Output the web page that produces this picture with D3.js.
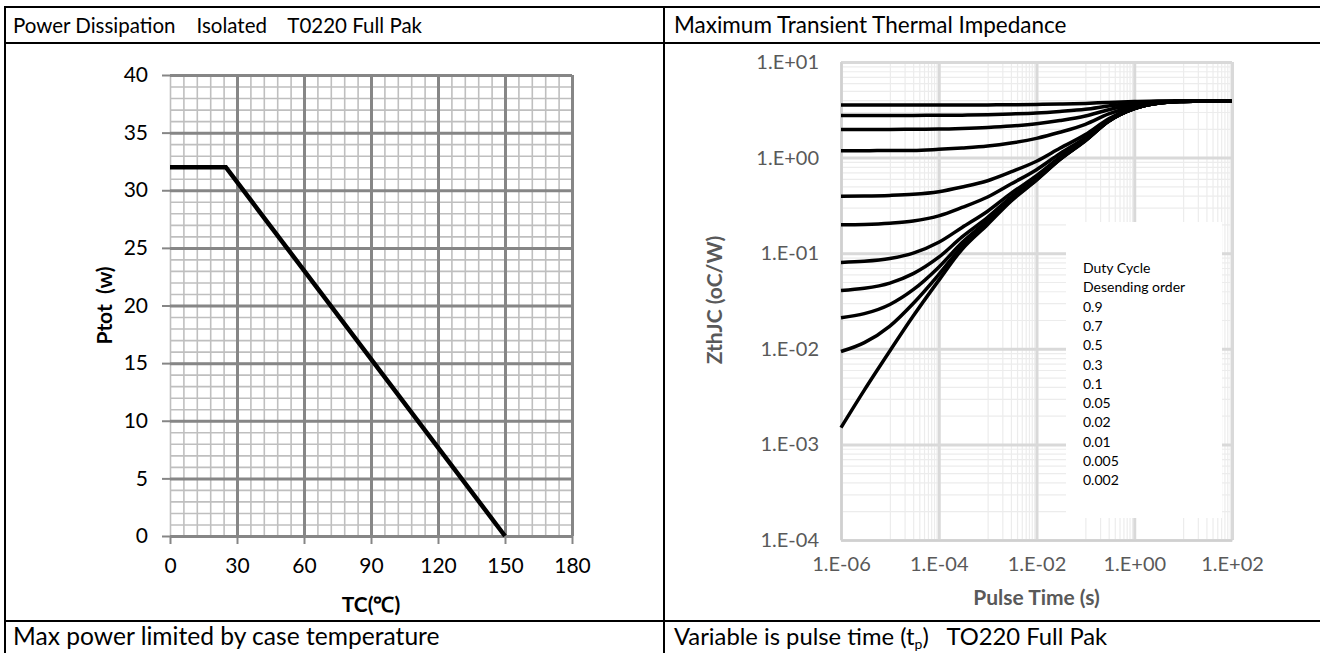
<!DOCTYPE html>
<html>
<head>
<meta charset="utf-8">
<script src="https://cdn.jsdelivr.net/npm/d3@7"></script>
<style>
  body { margin: 0; background: #fff; }
  svg { display: block; font-family: Lato, "Open Sans", sans-serif; }
</style>
</head>
<body>
<div id="chart"></div>
<script>
// left chart data: power derating
const tempTicks = [0, 30, 60, 90, 120, 150, 180];
const powerTicks = [0, 5, 10, 15, 20, 25, 30, 35, 40];
const deratingTemp = [0, 25, 150];
const deratingPower = [32, 32, 0];

// right chart data: transient thermal impedance per duty cycle
const pulseTimes = [1e-6, 3e-6, 1e-5, 3e-5, 1e-4, 3e-4, 1e-3, 3e-3, 1e-2, 3e-2, 1e-1, 3e-1, 1, 3, 10, 30, 100];
const timeTicks = [1e-6, 1e-4, 1e-2, 1, 100];
const timeTickLabels = ["1.E-06", "1.E-04", "1.E-02", "1.E+00", "1.E+02"];
const zthTicks = [1e-4, 1e-3, 1e-2, 1e-1, 1, 10];
const zthTickLabels = ["1.E-04", "1.E-03", "1.E-02", "1.E-01", "1.E+00", "1.E+01"];
const dutyLabels = ["0.9", "0.7", "0.5", "0.3", "0.1", "0.05", "0.02", "0.01", "0.005", "0.002"];

const zth09 = [3.54, 3.54, 3.54, 3.54, 3.54, 3.55, 3.56, 3.57, 3.60, 3.63, 3.69, 3.78, 3.86, 3.91, 3.92, 3.93, 3.93];
const zth07 = [2.75, 2.75, 2.75, 2.76, 2.77, 2.78, 2.81, 2.86, 2.93, 3.04, 3.20, 3.47, 3.73, 3.86, 3.91, 3.93, 3.93];
const zth05 = [1.97, 1.97, 1.97, 1.98, 1.99, 2.02, 2.07, 2.14, 2.26, 2.44, 2.72, 3.17, 3.59, 3.82, 3.90, 3.93, 3.93];
const zth03 = [1.18, 1.18, 1.19, 1.19, 1.22, 1.26, 1.32, 1.42, 1.59, 1.84, 2.23, 2.86, 3.45, 3.77, 3.89, 3.92, 3.93];
const zth01 = [0.394, 0.396, 0.402, 0.413, 0.440, 0.492, 0.573, 0.708, 0.915, 1.25, 1.74, 2.55, 3.32, 3.72, 3.88, 3.92, 3.93];
const zth005 = [0.198, 0.200, 0.206, 0.217, 0.246, 0.301, 0.387, 0.529, 0.748, 1.10, 1.62, 2.48, 3.28, 3.71, 3.87, 3.92, 3.93];
const zth002 = [0.0801, 0.0822, 0.0879, 0.100, 0.130, 0.186, 0.275, 0.422, 0.647, 1.01, 1.55, 2.43, 3.26, 3.70, 3.87, 3.92, 3.93];
const zth001 = [0.0408, 0.0430, 0.0487, 0.0611, 0.0908, 0.148, 0.237, 0.386, 0.614, 0.980, 1.52, 2.42, 3.26, 3.70, 3.87, 3.92, 3.93];
const zth0005 = [0.0211, 0.0233, 0.0291, 0.0415, 0.0714, 0.129, 0.219, 0.368, 0.597, 0.965, 1.51, 2.41, 3.25, 3.70, 3.87, 3.92, 3.93];
const zth0002 = [0.00936, 0.0116, 0.0173, 0.0298, 0.0598, 0.118, 0.208, 0.357, 0.587, 0.956, 1.51, 2.40, 3.25, 3.70, 3.87, 3.92, 3.93];
const zthSingle = [0.0015, 0.0037, 0.0095, 0.022, 0.052, 0.11, 0.20, 0.35, 0.58, 0.95, 1.50, 2.40, 3.25, 3.70, 3.87, 3.92, 3.93];

const zthCurves = [zth09, zth07, zth05, zth03, zth01, zth005, zth002, zth001, zth0005, zth0002, zthSingle];

const W = 1320, H = 653;
const svg = d3.select("#chart").append("svg")
    .attr("width", W)
    .attr("height", H);

// ---------- table frame ----------
const frame = svg.append("g").attr("stroke", "#000").attr("stroke-width", 2);
frame.append("line").attr("x1", 5).attr("x2", W).attr("y1", 7).attr("y2", 7);
frame.append("line").attr("x1", 5).attr("x2", W).attr("y1", 43).attr("y2", 43);
frame.append("line").attr("x1", 5).attr("x2", W).attr("y1", 621).attr("y2", 621);
frame.append("line").attr("x1", 5).attr("x2", 5).attr("y1", 6).attr("y2", H);
frame.append("line").attr("x1", 664).attr("x2", 664).attr("y1", 6).attr("y2", H);

svg.append("text").attr("x", 13).attr("y", 33).style("font-size", "20.5px").style("white-space", "pre")
    .text("Power Dissipation    Isolated    T0220 Full Pak");
svg.append("text").attr("x", 674).attr("y", 33).style("font-size", "22.5px")
    .text("Maximum Transient Thermal Impedance");
svg.append("text").attr("x", 13).attr("y", 645).style("font-size", "24.6px")
    .text("Max power limited by case temperature");
const foot = svg.append("text").attr("x", 674).attr("y", 645).style("font-size", "23.8px").style("white-space", "pre");
foot.append("tspan").text("Variable is pulse time (t");
foot.append("tspan").attr("dy", 4).style("font-size", "14px").text("p");
foot.append("tspan").attr("dy", -4).text(")   TO220 Full Pak");

// ---------- left chart ----------
const x = d3.scaleLinear().domain([0, 180]).range([170, 572]);
const y = d3.scaleLinear().domain([0, 40]).range([536, 75]);

const left = svg.append("g");

left.append("rect")
    .attr("x", x(0)).attr("y", y(40))
    .attr("width", x(180) - x(0)).attr("height", y(0) - y(40))
    .attr("fill", "#fff");

// minor grid
left.append("g")
    .attr("transform", "translate(0," + y(0) + ")")
    .call(d3.axisBottom(x).tickValues(d3.range(0, 181, 6)).tickSize(-(y(0) - y(40))).tickFormat(""))
    .call(g => g.select(".domain").remove())
    .selectAll("line").attr("stroke", "#bfbfbf").attr("stroke-width", 1.6);
left.append("g")
    .attr("transform", "translate(" + x(0) + ",0)")
    .call(d3.axisLeft(y).tickValues(d3.range(0, 41, 1)).tickSize(-(x(180) - x(0))).tickFormat(""))
    .call(g => g.select(".domain").remove())
    .selectAll("line").attr("stroke", "#bfbfbf").attr("stroke-width", 1.6);

// major grid
left.append("g")
    .attr("transform", "translate(0," + y(0) + ")")
    .call(d3.axisBottom(x).tickValues(tempTicks.slice(1)).tickSize(-(y(0) - y(40))).tickFormat(""))
    .call(g => g.select(".domain").remove())
    .selectAll("line").attr("stroke", "#868686").attr("stroke-width", 3);
left.append("g")
    .attr("transform", "translate(" + x(0) + ",0)")
    .call(d3.axisLeft(y).tickValues(powerTicks).tickSize(-(x(180) - x(0))).tickFormat(""))
    .call(g => g.select(".domain").remove())
    .selectAll("line").attr("stroke", "#868686").attr("stroke-width", 3);

// axes with outside ticks
const xAxisL = left.append("g")
    .attr("transform", "translate(0," + y(0) + ")")
    .call(d3.axisBottom(x).tickValues(tempTicks).tickSize(8).tickPadding(14));
const yAxisL = left.append("g")
    .attr("transform", "translate(" + x(0) + ",0)")
    .call(d3.axisLeft(y).tickValues(powerTicks).tickSize(8).tickPadding(14));
[xAxisL, yAxisL].forEach(function(a) {
    a.select(".domain").remove();
    a.selectAll("line").attr("stroke", "#868686").attr("stroke-width", 2);
    a.selectAll("text").attr("fill", "#000").style("font-size", "21px").style("font-family", "Lato, sans-serif");
});

left.append("path")
    .datum(deratingTemp.map(function(t, i) { return [t, deratingPower[i]]; }))
    .attr("fill", "none")
    .attr("stroke", "#000")
    .attr("stroke-width", 4.5)
    .attr("d", d3.line().x(function(d) { return x(d[0]); }).y(function(d) { return y(d[1]); }));

left.append("text")
    .attr("x", x(90)).attr("y", 612)
    .attr("text-anchor", "middle")
    .style("font-size", "21px").style("font-weight", "bold")
    .text("TC(℃)");
left.append("text")
    .attr("transform", "rotate(-90)")
    .attr("x", -y(20)).attr("y", 112)
    .attr("text-anchor", "middle")
    .style("font-size", "21px").style("font-weight", "bold").style("white-space", "pre")
    .text("Ptot  (w)");

// ---------- right chart ----------
const xr = d3.scaleLog().domain([1e-6, 1e2]).range([841, 1232]);
const yr = d3.scaleLog().domain([1e-4, 1e1]).range([540, 62]);

const right = svg.append("g");

const minorTimes = [];
[1e-6, 1e-4, 1e-2, 1].forEach(function(b) {
    d3.range(1, 10).forEach(function(k) { minorTimes.push(b * 10 * k); });
});
const minorZth = [];
[1e-4, 1e-3, 1e-2, 1e-1, 1].forEach(function(b) {
    d3.range(2, 10).forEach(function(k) { minorZth.push(b * k); });
});

right.append("g")
    .attr("transform", "translate(0," + yr(1e-4) + ")")
    .call(d3.axisBottom(xr).tickValues(minorTimes).tickSize(-(yr(1e-4) - yr(10))).tickFormat(""))
    .call(g => g.select(".domain").remove())
    .selectAll("line").attr("stroke", "#ececec").attr("stroke-width", 1.2);
right.append("g")
    .attr("transform", "translate(" + xr(1e-6) + ",0)")
    .call(d3.axisLeft(yr).tickValues(minorZth).tickSize(-(xr(1e2) - xr(1e-6))).tickFormat(""))
    .call(g => g.select(".domain").remove())
    .selectAll("line").attr("stroke", "#ececec").attr("stroke-width", 1.2);

right.append("g")
    .attr("transform", "translate(0," + yr(1e-4) + ")")
    .call(d3.axisBottom(xr).tickValues(timeTicks).tickSize(-(yr(1e-4) - yr(10))).tickFormat(""))
    .call(g => g.select(".domain").remove())
    .selectAll("line").attr("stroke", "#d9d9d9").attr("stroke-width", 3);
right.append("g")
    .attr("transform", "translate(" + xr(1e-6) + ",0)")
    .call(d3.axisLeft(yr).tickValues(zthTicks).tickSize(-(xr(1e2) - xr(1e-6))).tickFormat(""))
    .call(g => g.select(".domain").remove())
    .selectAll("line").attr("stroke", "#d9d9d9").attr("stroke-width", 3);

// tick labels
const xAxisR = right.append("g")
    .attr("transform", "translate(0," + yr(1e-4) + ")")
    .call(d3.axisBottom(xr).tickValues(timeTicks).tickSize(0).tickPadding(17)
        .tickFormat(function(d, i) { return timeTickLabels[i]; }));
const yAxisR = right.append("g")
    .attr("transform", "translate(" + xr(1e-6) + ",0)")
    .call(d3.axisLeft(yr).tickValues(zthTicks).tickSize(0).tickPadding(22)
        .tickFormat(function(d, i) { return zthTickLabels[i]; }));
[xAxisR, yAxisR].forEach(function(a) {
    a.select(".domain").attr("stroke", "#d0d0d0").attr("stroke-width", 2);
    a.selectAll("text").attr("fill", "#595959").style("font-size", "20px").style("font-family", "Lato, sans-serif");
});

// legend box
right.append("rect")
    .attr("x", 1066).attr("y", 222)
    .attr("width", 156).attr("height", 296)
    .attr("fill", "#fff");
const legendLines = ["Duty Cycle", "Desending order"].concat(dutyLabels);
right.selectAll(".legend")
    .data(legendLines)
    .enter().append("text")
    .attr("class", "legend")
    .attr("x", 1083)
    .attr("y", function(d, i) { return 273 + i * 19.3; })
    .style("font-size", "14px")
    .text(function(d) { return d; });

const zLine = d3.line()
    .x(function(d) { return xr(d[0]); })
    .y(function(d) { return yr(d[1]); })
    .curve(d3.curveMonotoneX);

right.selectAll(".curve")
    .data(zthCurves)
    .enter().append("path")
    .attr("class", "curve")
    .attr("fill", "none")
    .attr("stroke", "#000")
    .attr("stroke-width", 3.5)
    .attr("d", function(c) { return zLine(pulseTimes.map(function(t, i) { return [t, c[i]]; })); });

right.append("text")
    .attr("x", (xr(1e-6) + xr(1e2)) / 2).attr("y", 605)
    .attr("text-anchor", "middle")
    .attr("fill", "#595959")
    .style("font-size", "21px").style("font-weight", "bold")
    .text("Pulse Time (s)");
right.append("text")
    .attr("transform", "rotate(-90)")
    .attr("x", -300).attr("y", 722)
    .attr("text-anchor", "middle")
    .attr("fill", "#595959")
    .style("font-size", "21px").style("font-weight", "bold")
    .text("ZthJC (oC/W)");
</script>
</body>
</html>
